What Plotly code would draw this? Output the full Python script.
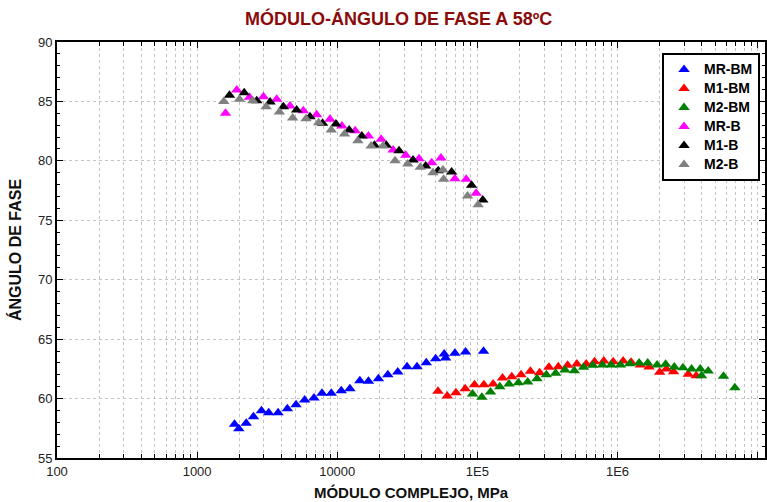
import plotly.graph_objects as go

# Módulo complejo |E*| (MPa) y ángulo de fase (º) a 58 ºC
mr_bm_mod = [1849, 1984, 2240, 2524, 2878, 3243, 3784, 4408, 5082, 5853, 6828, 7783, 9065,
             10680, 12315, 14505, 16705, 19680, 22960, 27040, 31490, 37100, 43220, 50410,
             58020, 59370, 69170, 82410, 110700]
mr_bm_ang = [57.84, 57.47, 57.92, 58.48, 58.98, 58.81, 58.81, 59.15, 59.49, 59.88, 60.05, 60.44,
             60.44, 60.66, 60.83, 61.50, 61.45, 61.67, 62.01, 62.24, 62.68, 62.68, 63.02, 63.36,
             63.75, 63.41, 63.81, 63.92, 63.98]

m1_bm_mod = [52340, 60970, 70310, 81890, 95500, 111300, 129600, 151200, 176100, 205000, 239100,
             278500, 324300, 378400, 440800, 513300, 598800, 686000, 798900, 932000, 1098000,
             1252000, 1458000, 1681000, 2001000, 2233000, 2516000, 3201000, 3650000]
m1_bm_ang = [60.61, 60.22, 60.49, 60.83, 61.17, 61.17, 61.23, 61.73, 61.84, 62.01, 62.30, 62.18,
             62.63, 62.68, 62.80, 62.91, 62.91, 63.10, 63.16, 63.10, 63.16, 63.05, 62.83, 62.66,
             62.21, 62.49, 62.26, 62.04, 61.92]

m2_bm_mod = [92430, 107700, 124200, 144600, 168400, 196500, 228800, 266500, 310800, 362100,
             421700, 491800, 572800, 667200, 782000, 902000, 1050000, 1223000, 1427000, 1643000,
             1917000, 2207000, 2545000, 2935000, 3380000, 3897000, 3981000, 4443000, 5711000,
             6882000]
m2_bm_ang = [60.39, 60.11, 60.55, 61.00, 61.23, 61.34, 61.39, 61.67, 62.01, 62.13, 62.40, 62.35,
             62.63, 62.80, 62.83, 62.83, 62.83, 62.93, 62.99, 62.99, 62.83, 62.88, 62.66, 62.60,
             62.49, 62.49, 61.92, 62.32, 61.87, 60.92]

mr_b_mod = [1595, 1920, 2364, 2974, 3698, 4606, 5728, 7122, 8872, 10800, 13430, 16700, 20570,
            25040, 30830, 38340, 47210, 54970, 69170, 83240, 98060]
mr_b_ang = [84.0, 85.96, 85.35, 85.40, 85.18, 84.62, 84.22, 83.88, 83.50, 82.93, 82.54, 82.09,
            81.81, 80.91, 80.47, 80.18, 79.85, 80.24, 78.50, 78.45, 77.27]

m1_b_mod = [1703, 2168, 2665, 3319, 4127, 5133, 6392, 7861, 9788, 12170, 14990, 18430, 22430,
            27620, 34740, 42790, 52600, 65530, 90940, 109400]
m1_b_ang = [85.52, 85.73, 85.06, 84.95, 84.56, 84.28, 83.72, 83.16, 83.10, 82.60, 82.09, 81.31,
            81.31, 80.85, 80.07, 79.57, 79.17, 79.06, 77.94, 76.71]

m2_b_mod = [1550, 2006, 2496, 3108, 3866, 4807, 5987, 7360, 9065, 11270, 14040, 17460, 21250,
            25870, 31860, 39160, 48240, 56810, 57470, 85160, 101300]
m2_b_ang = [85.0, 85.18, 85.06, 84.56, 84.11, 83.61, 83.55, 83.21, 82.60, 82.26, 81.70, 81.25,
            81.25, 80.01, 79.74, 79.46, 79.00, 79.23, 78.45, 77.04, 76.31]

x_tick_vals = [100, 1000, 10000, 100000, 1000000, 10000000]
x_tick_text = ["100", "1000", "10000", "1E5", "1E6", "1E7"]

series = [
    ("MR-BM", mr_bm_mod, mr_bm_ang, "#0000ff"),
    ("M1-BM", m1_bm_mod, m1_bm_ang, "#ff0000"),
    ("M2-BM", m2_bm_mod, m2_bm_ang, "#008000"),
    ("MR-B", mr_b_mod, mr_b_ang, "#ff00ff"),
    ("M1-B", m1_b_mod, m1_b_ang, "#000000"),
    ("M2-B", m2_b_mod, m2_b_ang, "#808080"),
]

FONT = "Liberation Sans, Arial, sans-serif"
GRID = "#c4c4c4"

fig = go.Figure()
for name, xs, ys, col in series:
    fig.add_trace(go.Scatter(
        x=xs, y=ys, mode="markers",
        name='<span style="font-size:14px"><b>%s</b></span>' % name,
        marker=dict(symbol="triangle-up", size=10, color=col, line=dict(width=0)),
    ))

minor_x = [m * 10 ** e for e in range(2, 7) for m in range(2, 10)]

fig.update_xaxes(
    type="log", range=[2, 7.053],
    tickmode="array", tickvals=x_tick_vals, ticktext=x_tick_text,
    ticks="inside", ticklen=6, tickwidth=1, tickcolor="#000",
    showline=True, linecolor="#000", linewidth=2, mirror="allticks",
    showgrid=True, gridcolor=GRID, griddash="dot", gridwidth=1,
    minor=dict(tickmode="array", tickvals=minor_x, ticks="inside", ticklen=4,
               tickcolor="#000", showgrid=True, gridcolor=GRID, griddash="dot", gridwidth=1),
    tickfont=dict(family=FONT, size=13, color="#222"),
    title=dict(text="<b>MÓDULO COMPLEJO, MPa</b>", font=dict(family=FONT, size=15, color="#111"),
               standoff=10),
    zeroline=False,
)
fig.update_yaxes(
    range=[55, 90], tickmode="linear", tick0=55, dtick=5,
    ticks="inside", ticklen=6, tickwidth=1, tickcolor="#000",
    showline=True, linecolor="#000", linewidth=2, mirror="allticks",
    showgrid=True, gridcolor=GRID, griddash="dot", gridwidth=1,
    minor=dict(dtick=1, ticks="inside", ticklen=3, tickcolor="#000", showgrid=False),
    tickfont=dict(family=FONT, size=13, color="#222"),
    title=dict(text="<b>ÁNGULO DE FASE</b>", font=dict(family=FONT, size=16, color="#111"),
               standoff=12),
    zeroline=False,
)

fig.update_layout(
    width=767, height=502,
    margin=dict(l=57, r=0, t=42, b=44),
    paper_bgcolor="white", plot_bgcolor="white",
    showlegend=True,
    legend=dict(
        x=0.993, y=0.9736, xanchor="right", yanchor="top",
        bgcolor="white", bordercolor="#000", borderwidth=2,
        font=dict(family=FONT, size=12, color="#000"),
        itemwidth=30, tracegroupgap=0,
    ),
    annotations=[dict(
        text="<b>MÓDULO-ÁNGULO DE FASE A 58ºC</b>",
        xref="paper", yref="paper", x=0.483, y=1.0, yshift=24,
        xanchor="center", yanchor="middle", showarrow=False,
        font=dict(family=FONT, size=18, color="#8b0a0a"),
    )],
)

fig.write_html("out.html")
